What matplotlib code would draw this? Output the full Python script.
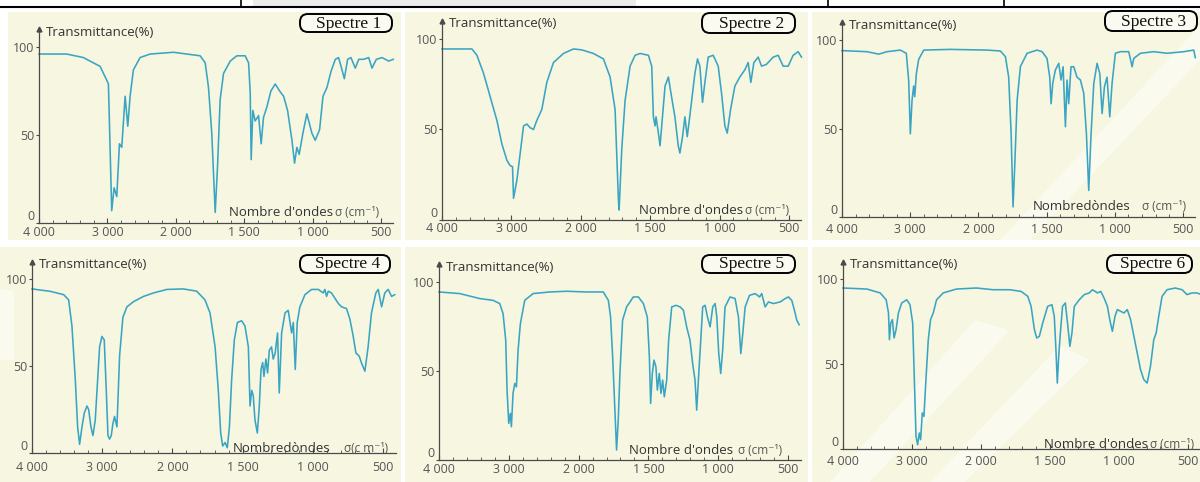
import numpy as np
import matplotlib
matplotlib.use("Agg")
import matplotlib.pyplot as plt
from matplotlib.patches import Rectangle, FancyBboxPatch, Polygon
from matplotlib.lines import Line2D
from matplotlib.transforms import Affine2D
from matplotlib.ticker import FixedLocator, NullFormatter

plt.rcParams['font.family'] = ['Open Sans', 'DejaVu Sans']

# ---------------- data (wavenumber cm-1, transmittance %) ----------------
s1_wn = [4000, 3595, 3351, 3107, 3020, 2985, 2937, 2902, 2863, 2824, 2790, 2741, 2702, 2668, 2620, 2522, 2376,
         2034, 1920, 1822, 1785, 1761, 1737, 1712, 1695, 1676, 1651, 1602, 1554, 1493, 1468, 1456, 1449, 1437,
         1420, 1395, 1376, 1359, 1334, 1305, 1273, 1241, 1212, 1183, 1151, 1132, 1115, 1098, 1071, 1042, 1005,
         981, 949, 924, 895, 866, 834, 810, 785, 768, 744, 720, 688, 663, 627, 590, 566, 534, 493, 444, 410]
s1_t = [96, 96, 94, 89, 82, 79, 7, 20, 15, 45, 43, 72, 55, 72, 87, 94, 96, 97, 96, 95, 91, 77, 51, 6, 32, 70,
        85, 92, 95, 95, 91, 74, 36, 64, 58, 61, 45, 60, 66, 75, 79, 75, 72, 64, 47, 34, 43, 39, 51, 62, 51, 47,
        53, 72, 77, 86, 93, 94, 87, 82, 93, 94, 88, 93, 93, 94, 88, 93, 94, 92, 93]

s2_wn = [4000, 3569, 3497, 3401, 3305, 3209, 3137, 3065, 3017, 2984, 2969, 2921, 2873, 2825, 2777, 2730, 2682,
         2634, 2562, 2490, 2394, 2250, 2106, 1993, 1909, 1837, 1789, 1753, 1729, 1724, 1705, 1681, 1645, 1609,
         1573, 1513, 1489, 1477, 1465, 1458, 1441, 1429, 1417, 1393, 1369, 1346, 1322, 1298, 1286, 1267, 1250,
         1233, 1209, 1178, 1159, 1142, 1123, 1106, 1082, 1046, 1010, 986, 962, 945, 921, 890, 854, 818, 794,
         775, 753, 722, 698, 662, 614, 578, 542, 506, 470, 434, 410]
s2_t = [94.5, 94.5, 91, 81, 68, 55, 42, 33, 30, 29.5, 12, 22, 37, 52, 53, 51, 50, 55, 61, 76, 87, 92, 94.5, 94,
        92, 89, 79, 61, 11, 5.5, 39, 66, 85, 91, 92, 91, 85, 57, 52, 57, 48, 41, 52, 74, 79, 68, 57, 41, 37, 46,
        57, 46, 61, 81, 89, 85, 65, 76, 90, 91, 85, 70, 52, 48, 61, 74, 79, 83, 87, 76, 87, 90, 85, 86, 90, 91,
        85, 85, 91, 93, 90]

s3_wn = [4000, 3633, 3462, 3340, 3145, 3057, 3022, 2998, 2973, 2949, 2934, 2910, 2876, 2802, 2411, 1936, 1839,
         1802, 1778, 1760, 1746, 1734, 1716, 1692, 1643, 1570, 1533, 1497, 1477, 1467, 1455, 1436, 1411, 1394,
         1379, 1362, 1350, 1338, 1321, 1301, 1277, 1252, 1228, 1208, 1191, 1174, 1154, 1130, 1110, 1093, 1076,
         1057, 1037, 1020, 996, 959, 898, 873, 861, 812, 714, 617, 494, 421, 410]
s3_t = [94, 93.4, 92, 93.4, 94.3, 92.5, 77, 47, 66, 74, 68, 81, 89, 94.3, 94.7, 94.3, 93.8, 90.6, 79, 47, 5.7,
        28, 66, 85, 92.5, 94.3, 93.4, 89.6, 79, 64, 75.5, 83, 86.8, 77.4, 84.9, 51, 77.4, 64, 84.9, 84.9, 79,
        77.4, 70, 47, 15, 47, 75.5, 86.8, 81, 58.5, 73.6, 79, 56.6, 75.5, 92.5, 93.4, 93.4, 84.9, 89.6, 92.5,
        93.4, 92.5, 93.4, 94.3, 90]

s4_wn = [4000, 3739, 3549, 3478, 3431, 3383, 3350, 3322, 3288, 3255, 3217, 3193, 3160, 3132, 3099, 3065, 3037,
         3004, 2971, 2942, 2918, 2895, 2871, 2847, 2824, 2790, 2752, 2705, 2648, 2553, 2411, 2269, 2079, 1922,
         1827, 1768, 1732, 1696, 1673, 1656, 1642, 1625, 1609, 1594, 1578, 1559, 1537, 1507, 1483, 1459, 1447,
         1435, 1424, 1412, 1395, 1381, 1369, 1357, 1348, 1334, 1322, 1310, 1294, 1282, 1268, 1251, 1239, 1222,
         1198, 1175, 1151, 1139, 1125, 1111, 1092, 1056, 1009, 961, 926, 914, 902, 890, 867, 843, 819, 795, 760,
         736, 712, 693, 669, 653, 629, 606, 582, 551, 534, 510, 487, 463, 439, 416]
s4_t = [94.3, 92.9, 91, 88, 73, 42, 15, 5, 15, 23, 27, 25, 15, 10, 19, 42, 61, 67, 65, 36, 10, 8, 10, 17, 21, 15,
        56, 78, 84, 87, 90, 92, 94, 94.3, 93, 88, 80.5, 61, 36, 11.5, 4, 6, 3, 15, 42, 65, 75, 76, 73, 61, 27,
        36, 33, 19, 11.5, 27, 48, 52, 44, 54, 46, 59, 61, 54, 57.5, 69, 34.5, 69, 80.5, 82, 69, 75, 48, 75, 84,
        91, 94, 94, 92, 94, 90, 93, 92, 89, 86, 84, 83, 77, 67, 57.5, 55.6, 51.7, 47, 61, 80.5, 92, 94, 84, 92,
        94, 90, 91]

s5_wn = [4000, 3704, 3417, 3226, 3130, 3082, 3044, 3025, 3001, 2977, 2963, 2939, 2915, 2891, 2867, 2834, 2772,
         2652, 2413, 2174, 1943, 1823, 1787, 1771, 1756, 1739, 1728, 1716, 1704, 1685, 1656, 1608, 1572, 1536,
         1508, 1493, 1484, 1472, 1460, 1446, 1436, 1422, 1410, 1398, 1386, 1369, 1355, 1333, 1302, 1273, 1249,
         1226, 1202, 1183, 1166, 1154, 1142, 1125, 1111, 1094, 1077, 1058, 1039, 1022, 1010, 996, 982, 968, 951,
         915, 879, 855, 838, 824, 807, 776, 735, 704, 688, 664, 640, 604, 556, 520, 497, 473, 454, 437, 420]
s5_t = [94.4, 93.5, 90.7, 89.7, 87.9, 82.2, 67.3, 39.3, 20.6, 26.2, 18.7, 37.4, 43, 41.1, 61.7, 76.6, 89.7, 93.5,
        94.4, 94.8, 94.4, 94.4, 89.7, 80.4, 57.9, 26.2, 5.6, 22.4, 48.6, 78.5, 86, 91.6, 91.6, 87.9, 80.4, 57.9,
        31.8, 48.6, 56.1, 52.3, 39.3, 48.6, 37.4, 44.9, 35.5, 44.9, 67.3, 86, 86.9, 86, 84.1, 74.8, 67.3, 54.2,
        44.9, 28, 44.9, 67.3, 86, 86.9, 80.4, 74.8, 86, 87.9, 80.4, 59.8, 48.6, 61.7, 86, 91.6, 90.7, 80.4, 59.8,
        71, 86, 92.5, 93.5, 91.6, 93.5, 86, 88.8, 87.9, 88.8, 90.7, 91.6, 89.7, 84.1, 78.5, 76]

s6_wn = [4000, 3654, 3461, 3375, 3341, 3327, 3308, 3284, 3260, 3231, 3197, 3149, 3077, 3029, 2990, 2966, 2942,
         2918, 2894, 2875, 2851, 2827, 2798, 2764, 2731, 2692, 2644, 2548, 2356, 2067, 1913, 1793, 1709, 1661,
         1637, 1613, 1596, 1577, 1553, 1517, 1486, 1469, 1457, 1447, 1437, 1425, 1409, 1389, 1373, 1356, 1341,
         1324, 1288, 1252, 1216, 1192, 1156, 1132, 1108, 1084, 1067, 1048, 1029, 1012, 988, 964, 940, 916, 892,
         868, 844, 820, 796, 772, 748, 731, 712, 688, 652, 592, 543, 507, 471, 435, 410]
s6_t = [94.7, 94.1, 91.8, 87.8, 80.2, 64.3, 74.1, 76.1, 65.3, 70.2, 80, 85.9, 87.8, 84.9, 74.1, 40.8, 7.5, 2.5,
        9.4, 5.5, 21.2, 19.2, 40.8, 64.3, 76.1, 80, 87.8, 91.8, 94.1, 94.7, 93.7, 93.7, 92.7, 89.8, 83.9, 70.2,
        65.3, 66.3, 74.1, 83.9, 84.9, 78, 58.4, 38.8, 54.5, 68.2, 83.9, 85.9, 74.1, 60.4, 68.2, 83.9, 87.8, 90.8,
        91.8, 93.7, 91.8, 92.7, 88.8, 83.9, 76.1, 69.2, 78, 82, 81, 80, 82, 76.1, 66.3, 56.5, 46.7, 40.8, 38.8,
        48.6, 64.3, 68.2, 78, 89.8, 93.7, 94.7, 93.7, 90.8, 91.8, 91.8, 91]

spectra_wn = [s1_wn, s2_wn, s3_wn, s4_wn, s5_wn, s6_wn]
spectra_t = [s1_t, s2_t, s3_t, s4_t, s5_t, s6_t]
spectre_names = ["Spectre 1", "Spectre 2", "Spectre 3", "Spectre 4", "Spectre 5", "Spectre 6"]
xlabel_names = ["Nombre d'ondes", "Nombre d'ondes", "Nombredòndes", "Nombredòndes", "Nombre d'ondes", "Nombre d'ondes"]
xlabel_units = ["σ (cm⁻¹)", "σ (cm⁻¹)", "σ (cm⁻¹)", "σ(c m⁻¹)", "σ (cm⁻¹)", "σ (cm⁻¹)"]
ylabel_text = "Transmittance(%)"
xtick_values = [4000, 3000, 2000, 1500, 1000, 500]
xtick_labels = ["4 000", "3 000", "2 000", "1 500", "1 000", "500"]
ytick_values = [0, 50, 100]
ytick_labels = ["0", "50", "100"]

# ---------------- layout (pixels) ----------------
W, H = 1200, 482
BG = '#f6f6e1'
LINE = '#3aa5c3'
AX = '#4a4a4a'

# per panel: x of 4000, x of 500, y of T=0, y of T=100
geom = [(39, 381, 223, 47), (442, 789, 220, 39), (842, 1183, 217, 40),
        (32, 383, 453, 279), (439, 788, 460, 282), (843, 1188, 449, 279)]
bgs = [(8, 12, 401, 240), (405, 12, 808, 240), (812, 12, 1200, 240),
       (0, 247, 401, 482), (405, 247, 808, 482), (812, 247, 1200, 482)]
boxes = [(300, 14, 392, 32), (702, 13, 795, 33), (1105, 11, 1197, 31),
         (300, 255, 390, 273), (702, 255, 795, 273), (1107, 255, 1192, 273)]
# x label: right end of name, left of unit, y centre
xlab = [(333, 335, 212), (743, 745, 210), (1130, 1142, 207),
        (330, 344, 449), (733, 738, 451), (1148, 1150, 445)]
tickpad = [2, 1.5, 4, 6, 2, 4]

fig = plt.figure(figsize=(W / 100, H / 100), dpi=100)
fig.patch.set_facecolor('white')
px = Affine2D().scale(1 / W, -1 / H).translate(0, 1) + fig.transFigure

# top table border
fig.add_artist(Rectangle((253, 0), 383, 6, transform=px, fc='#ececec', ec='none', zorder=-5))
fig.add_artist(Line2D([0, W], [7, 7], transform=px, color='black', lw=1.5, zorder=5))
for xv in (241, 828, 1004):
    fig.add_artist(Line2D([xv, xv], [0, 7], transform=px, color='black', lw=1.2, zorder=5))

for (x0, y0, x1, y1) in bgs:
    fig.add_artist(Rectangle((x0, y0), x1 - x0, y1 - y0, transform=px, fc=BG, ec='none', zorder=-10))

# faint watermark bands seen on the scan
wm = [[(1000, 240), (1030, 240), (1200, 60), (1200, 25)],
      [(830, 482), (870, 482), (1010, 330), (975, 320)],
      [(930, 482), (965, 482), (1090, 360), (1060, 345)],
      [(0, 290), (14, 290), (14, 360), (0, 360)]]
for poly in wm:
    fig.add_artist(Polygon(poly, closed=True, transform=px, fc='white', ec='none', alpha=0.45, zorder=-9))


def fwd(s):
    s = np.asarray(s, float)
    return np.where(s >= 2000, s, 2 * s - 2000)


def inv(v):
    v = np.asarray(v, float)
    return np.where(v >= 2000, v, (v + 2000) / 2)


minor = [v for v in list(range(3800, 2000, -200)) + list(range(1900, 400, -100)) if v not in xtick_values]

for i in range(6):
    L, R5, Y0, Y100 = geom[i]
    s = (R5 - L) / 5000.0
    k = (Y0 - Y100) / 100.0
    width = 5180 * s
    height = 110 * k
    ax = fig.add_axes([L / W, 1 - Y0 / H, width / W, height / H])
    ax.set_facecolor('none')
    ax.set_xscale('function', functions=(fwd, inv))
    ax.set_xlim(4000, 410)
    ax.set_ylim(0, 110)
    ax.plot(spectra_wn[i], spectra_t[i], color=LINE, lw=1.15, solid_joinstyle='round', clip_on=False)
    for sp in ('top', 'right'):
        ax.spines[sp].set_visible(False)
    for sp in ('left', 'bottom'):
        ax.spines[sp].set_color(AX)
        ax.spines[sp].set_linewidth(0.9)
    ax.plot([0], [1], marker='^', ms=3.5, color=AX, transform=ax.transAxes, clip_on=False)
    ax.set_xticks(xtick_values)
    ax.set_xticklabels(xtick_labels)
    ax.xaxis.set_minor_locator(FixedLocator(minor))
    ax.xaxis.set_minor_formatter(NullFormatter())
    ax.set_yticks(ytick_values)
    ax.set_yticklabels(ytick_labels)
    ax.tick_params(axis='x', which='major', direction='in', length=3.5, width=0.8, color=AX,
                   labelsize=9, labelcolor='#555555', pad=tickpad[i])
    ax.tick_params(axis='x', which='minor', direction='in', length=2, width=0.6, color=AX)
    ax.tick_params(axis='y', which='major', direction='out', length=2.5, width=0.8, color=AX,
                   labelsize=9, labelcolor='#555555', pad=1)
    ax.get_yticklabels()[0].set_va('bottom')
    # y label
    fig.text(L + 7, Y0 - height + 3, ylabel_text, transform=px, ha='left', va='center',
             fontsize=9.5, color='#333333')
    # x label
    xr, xu, yc = xlab[i]
    fig.text(xr, yc, xlabel_names[i], transform=px, ha='right', va='center', fontsize=9.5, color='#333333')
    fig.text(xu, yc, xlabel_units[i], transform=px, ha='left', va='center', fontsize=8.5, color='#555555')
    # spectre box
    bx0, by0, bx1, by1 = boxes[i]
    fig.add_artist(FancyBboxPatch((bx0, by0), bx1 - bx0, by1 - by0, transform=px,
                                  boxstyle='round,pad=0,rounding_size=8', fc='#fafaf0', ec='black',
                                  lw=1.4, zorder=6))
    fig.text((bx0 + bx1) / 2 + 3, (by0 + by1) / 2 + 0.5, spectre_names[i], transform=px, ha='center',
             va='center', fontsize=12.5, family=['Liberation Serif', 'DejaVu Serif'], color='#111111', zorder=7)

fig.savefig('out.png', dpi=100, facecolor='white')
